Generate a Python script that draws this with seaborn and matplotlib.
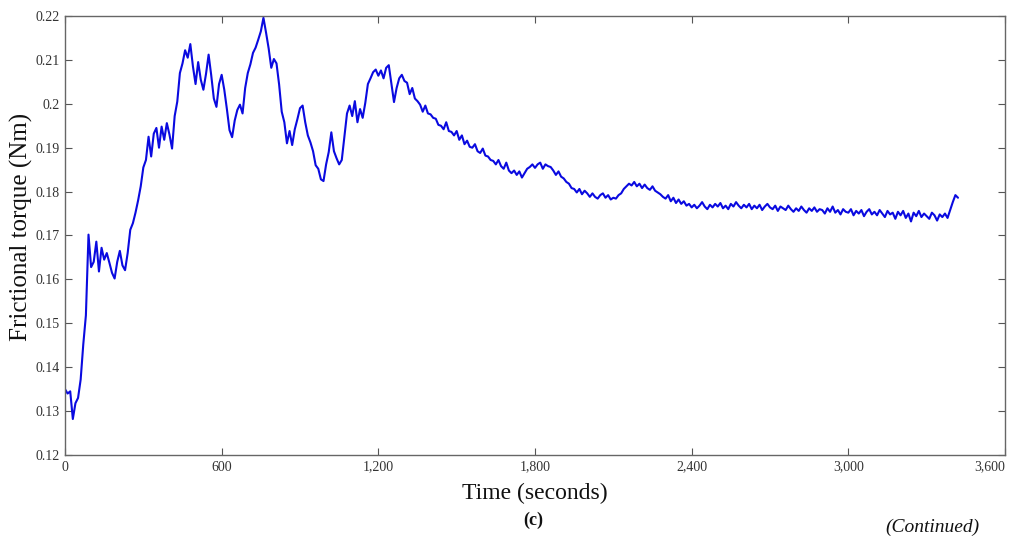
import numpy as np
import pandas as pd
import matplotlib
matplotlib.use("Agg")
import matplotlib.pyplot as plt
import seaborn as sns
from matplotlib.ticker import FuncFormatter, FixedLocator

# ---- data (one sample every 10 s) ----
sample_step_s = 10
torque_nm = [
    0.1350, 0.1340, 0.1345, 0.1282, 0.1318, 0.1330, 0.1372, 0.1452, 0.1518, 0.1702,
    0.1628, 0.1640, 0.1686, 0.1618, 0.1672, 0.1645, 0.1660, 0.1638, 0.1615, 0.1602,
    0.1640, 0.1665, 0.1632, 0.1621, 0.1660, 0.1713, 0.1728, 0.1752, 0.1780, 0.1812,
    0.1855, 0.1872, 0.1925, 0.1880, 0.1932, 0.1945, 0.1900, 0.1948, 0.1918, 0.1956,
    0.1930, 0.1898, 0.1972, 0.2005, 0.2070, 0.2092, 0.2122, 0.2105, 0.2136, 0.2085,
    0.2045, 0.2095, 0.2055, 0.2032, 0.2068, 0.2112, 0.2065, 0.2012, 0.1993, 0.2045,
    0.2066, 0.2032, 0.1988, 0.1940, 0.1924, 0.1962, 0.1986, 0.1998, 0.1978, 0.2036,
    0.2070, 0.2090, 0.2116, 0.2128, 0.2146, 0.2165, 0.2196, 0.2162, 0.2126, 0.2082,
    0.2102, 0.2092, 0.2044, 0.1982, 0.1958, 0.1910, 0.1938, 0.1906, 0.1942, 0.1965,
    0.1990, 0.1996, 0.1958, 0.1928, 0.1912, 0.1892, 0.1860, 0.1852, 0.1828, 0.1824,
    0.1862, 0.1890, 0.1935, 0.1892, 0.1876, 0.1862, 0.1872, 0.1925, 0.1978, 0.1996,
    0.1972, 0.2006, 0.1958, 0.1988, 0.1968, 0.2002, 0.2045, 0.2058, 0.2072, 0.2078,
    0.2064, 0.2076, 0.2058, 0.2082, 0.2088, 0.2046, 0.2004, 0.2036, 0.2058, 0.2066,
    0.2052, 0.2048, 0.2022, 0.2036, 0.2012, 0.2006, 0.1998, 0.1982, 0.1996, 0.1978,
    0.1976, 0.1968, 0.1966, 0.1952, 0.1950, 0.1942, 0.1958, 0.1938, 0.1936, 0.1928,
    0.1938, 0.1918, 0.1928, 0.1908, 0.1916, 0.1902, 0.1900, 0.1908, 0.1892, 0.1888,
    0.1898, 0.1882, 0.1880, 0.1872, 0.1870, 0.1862, 0.1872, 0.1858, 0.1852, 0.1866,
    0.1848, 0.1842, 0.1848, 0.1838, 0.1846, 0.1832, 0.1842, 0.1852, 0.1856, 0.1862,
    0.1854, 0.1862, 0.1866, 0.1852, 0.1862, 0.1858, 0.1856, 0.1848, 0.1838, 0.1846,
    0.1834, 0.1830, 0.1822, 0.1818, 0.1808, 0.1806, 0.1798, 0.1806, 0.1794, 0.1802,
    0.1796, 0.1788, 0.1796, 0.1788, 0.1784, 0.1792, 0.1796, 0.1786, 0.1792, 0.1782,
    0.1786, 0.1784, 0.1792, 0.1796, 0.1806, 0.1812, 0.1818, 0.1814, 0.1822, 0.1812,
    0.1818, 0.1808, 0.1816, 0.1808, 0.1804, 0.1812, 0.1802, 0.1798, 0.1794, 0.1788,
    0.1784, 0.1792, 0.1778, 0.1786, 0.1774, 0.1782, 0.1772, 0.1778, 0.1768, 0.1772,
    0.1764, 0.1770, 0.1762, 0.1768, 0.1776, 0.1766, 0.1760, 0.1770, 0.1764, 0.1772,
    0.1766, 0.1774, 0.1762, 0.1768, 0.1760, 0.1772, 0.1766, 0.1776, 0.1768, 0.1762,
    0.1770, 0.1764, 0.1772, 0.1760, 0.1768, 0.1762, 0.1770, 0.1758, 0.1766, 0.1772,
    0.1764, 0.1760, 0.1768, 0.1756, 0.1766, 0.1762, 0.1758, 0.1768, 0.1760, 0.1754,
    0.1762, 0.1756, 0.1766, 0.1758, 0.1752, 0.1762, 0.1756, 0.1764, 0.1754, 0.1760,
    0.1758, 0.1750, 0.1762, 0.1754, 0.1766, 0.1752, 0.1758, 0.1748, 0.1760, 0.1754,
    0.1752, 0.1760, 0.1746, 0.1756, 0.1750, 0.1758, 0.1744, 0.1754, 0.1760, 0.1748,
    0.1754, 0.1746, 0.1758, 0.1750, 0.1742, 0.1756, 0.1748, 0.1752, 0.1738, 0.1754,
    0.1746, 0.1756, 0.1740, 0.1750, 0.1732, 0.1752, 0.1744, 0.1756, 0.1742, 0.1750,
    0.1744, 0.1738, 0.1752, 0.1746, 0.1734, 0.1748, 0.1742, 0.1750, 0.1740, 0.1758,
    0.1776, 0.1792, 0.1786,
]
time_s = [i * sample_step_s for i in range(len(torque_nm))]

x_ticks = [0, 600, 1200, 1800, 2400, 3000, 3600]
y_ticks = [0.12, 0.13, 0.14, 0.15, 0.16, 0.17, 0.18, 0.19, 0.20, 0.21, 0.22]
x_label = "Time (seconds)"
y_label = "Frictional torque (Nm)"
panel_label = "(c)"
continued_label = "(Continued)"

df = pd.DataFrame({"time": time_s, "torque": torque_nm})

# ---- style ----
sns.set_style("white")
plt.rcParams["font.family"] = ["Liberation Serif", "DejaVu Serif"]

fig = plt.figure(figsize=(10.17, 5.38), dpi=100)
ax = fig.add_axes([65 / 1017, 1 - 455 / 538, 940 / 1017, 439 / 538])

sns.lineplot(data=df, x="time", y="torque", ax=ax, color="#0a0ae0",
             linewidth=1.5, estimator=None, sort=False)

ax.set_xlim(0, 3600)
ax.set_ylim(0.12, 0.22)
ax.xaxis.set_major_locator(FixedLocator(x_ticks))
ax.yaxis.set_major_locator(FixedLocator(y_ticks))
ax.xaxis.set_major_formatter(FuncFormatter(lambda v, p: f"{int(round(v)):,}"))
ax.yaxis.set_major_formatter(FuncFormatter(
    lambda v, p: "0.2" if abs(v - 0.2) < 1e-9 else f"{v:.2f}"))

ax.tick_params(direction="in", length=5, width=0.8, color="#555555",
               labelsize=10, labelcolor="#333333", top=True, right=True,
               bottom=True, left=True, pad=4)
for s in ax.spines.values():
    s.set_visible(True)
    s.set_color("#666666")
    s.set_linewidth(1.0)

# keep the last x tick label inside the figure, as in the reference
fig.canvas.draw()
xlabels = ax.get_xticklabels()
xlabels[-1].set_horizontalalignment("right")

ax.set_xlabel(x_label, fontsize=17, color="#111111", labelpad=7)
ax.set_ylabel(y_label, fontsize=18, color="#111111")
ax.yaxis.set_label_coords(-0.034, 0.52)

fig.text(533 / 1017, 1 - 520 / 538, panel_label, ha="center", va="center",
         fontsize=13, fontweight="bold", color="#111111")
fig.text(932 / 1017, 1 - 527 / 538, continued_label, ha="center", va="center",
         fontsize=14, fontstyle="italic", color="#111111")

fig.savefig("out.png", dpi=100)
